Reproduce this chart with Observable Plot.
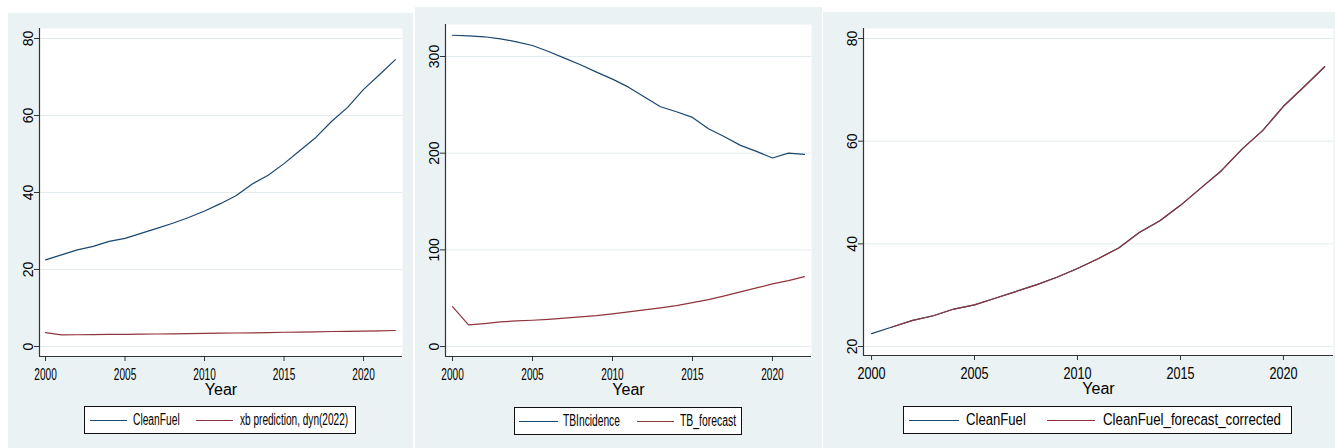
<!DOCTYPE html>
<html>
<head>
<meta charset="utf-8">
<script src="https://cdn.jsdelivr.net/npm/d3@7"></script>
<script src="https://cdn.jsdelivr.net/npm/@observablehq/plot@0.6"></script>
<style>
  html, body { margin: 0; padding: 0; background: #fff; }
  #root { position: relative; width: 1335px; height: 448px; overflow: hidden; font-family: "Liberation Sans", Arial, sans-serif; }
  .panel { position: absolute; background: #eaf2f3; }
  .panel svg { position: absolute; left: 0; top: 0; }
  .legend { position: absolute; box-sizing: border-box; border: 1px solid #111; background: #fff; }
  .legend .sample { position: absolute; top: 50%; height: 0; border-top: 1.4px solid; }
  .legend .lab { position: absolute; top: 50%; font-size: 16px; line-height: 1; white-space: nowrap; color: #000;
                 transform-origin: left center; }
</style>
</head>
<body>
<div id="root"></div>
<script>
// ---------------- data ----------------
const years = [2000, 2001, 2002, 2003, 2004, 2005, 2006, 2007, 2008, 2009, 2010,
               2011, 2012, 2013, 2014, 2015, 2016, 2017, 2018, 2019, 2020, 2021, 2022];
const forecastYears = [2001, 2002, 2003, 2004, 2005, 2006, 2007, 2008, 2009, 2010,
               2011, 2012, 2013, 2014, 2015, 2016, 2017, 2018, 2019, 2020, 2021, 2022];

const cleanFuel = [22.5, 23.8, 25.1, 26.0, 27.3, 28.1, 29.4, 30.7, 32.0, 33.5, 35.2,
                   37.1, 39.2, 42.2, 44.5, 47.5, 50.9, 54.3, 58.5, 62.1, 66.8, 70.6, 74.5];
const xbPrediction = [3.6, 3.0, 3.05, 3.1, 3.15, 3.15, 3.2, 3.25, 3.3, 3.35, 3.4,
                      3.45, 3.5, 3.55, 3.6, 3.7, 3.75, 3.8, 3.9, 3.95, 4.0, 4.05, 4.15];
const tbIncidence = [322, 321.4, 320.4, 318.3, 315.2, 311.4, 305.2, 298.3, 291.4, 283.8, 276.6,
                     268.3, 258.0, 248.0, 242.9, 237.0, 225.3, 217.0, 208.1, 201.9, 195.0, 200.1, 198.8];
const tbForecast = [41.3, 22.4, 23.8, 25.5, 26.5, 27.2, 28.2, 29.3, 30.7, 32.0, 33.8,
                    35.8, 37.9, 40.0, 42.4, 45.5, 48.6, 52.4, 56.5, 60.6, 64.8, 68.2, 72.3];
const cleanFuelForecastCorrected = [23.8, 25.1, 26.0, 27.3, 28.1, 29.4, 30.7, 32.0, 33.5, 35.2,
                    37.1, 39.2, 42.2, 44.5, 47.5, 50.9, 54.3, 58.5, 62.1, 66.8, 70.6, 74.5];

const xTicks = [2000, 2005, 2010, 2015, 2020];
const yTicks1 = [0, 20, 40, 60, 80];
const yTicks2 = [0, 100, 200, 300];
const yTicks3 = [20, 40, 60, 80];

const labels1 = ["CleanFuel", "xb prediction, dyn(2022)"];
const labels2 = ["TBIncidence", "TB_forecast"];
const labels3 = ["CleanFuel", "CleanFuel_forecast_corrected"];
const xTitle = "Year";

const NAVY = "#1a476f", MAROON = "#90353b";

// ---------------- layout ----------------
const panels = [
  {
    left: 8, top: 13, w: 405, h: 435, svgH: 390,
    m: {l: 31, r: 11, t: 15, b: 47},
    xDomain: [1999.62, 2022.45], yDomain: [-2.6, 82.6], yTicks: yTicks1,
    series: [
      {x: years, y: cleanFuel, color: NAVY},
      {x: years, y: xbPrediction, color: MAROON}
    ],
    labels: labels1, fx: 0.63,
    legend: {x: 76, y: 393, w: 272, h: 28,
      items: [{sx: 5, sw: 37, tx: 48, f: 0.64}, {sx: 111, sw: 37, tx: 155, f: 0.63}]}
  },
  {
    left: 415, top: 7, w: 407, h: 441, svgH: 396,
    m: {l: 30, r: 11, t: 17, b: 47},
    xDomain: [1999.56, 2022.44], yDomain: [-10.3, 333.1], yTicks: yTicks2,
    series: [
      {x: years, y: tbIncidence, color: NAVY},
      {x: years, y: tbForecast, color: MAROON}
    ],
    labels: labels2, fx: 0.63,
    legend: {x: 99, y: 400, w: 228, h: 28,
      items: [{sx: 4, sw: 39, tx: 48, f: 0.64}, {sx: 122, sw: 37, tx: 165, f: 0.65}]}
  },
  {
    left: 823, top: 12, w: 512, h: 436, svgH: 391,
    m: {l: 40, r: 2, t: 16, b: 48},
    xDomain: [1999.61, 2022.43], yDomain: [18.25, 81.95], yTicks: yTicks3,
    series: [
      {x: years, y: cleanFuel, color: NAVY},
      {x: forecastYears, y: cleanFuelForecastCorrected, color: MAROON}
    ],
    labels: labels3, fx: 0.79,
    legend: {x: 80, y: 394, w: 389, h: 28,
      items: [{sx: 5, sw: 50, tx: 62, f: 0.82}, {sx: 143, sw: 48, tx: 199, f: 0.83}]}
  }
];

const root = document.getElementById("root");

panels.forEach(p => {
  const div = document.createElement("div");
  div.className = "panel";
  Object.assign(div.style, {left: p.left + "px", top: p.top + "px", width: p.w + "px", height: p.h + "px"});
  root.appendChild(div);

  const lineMarks = p.series.map(s => {
    const data = s.x.map((yr, i) => ({year: yr, value: s.y[i]}));
    return Plot.lineY(data, {x: "year", y: "value", stroke: s.color, strokeWidth: 1.2});
  });

  const svg = Plot.plot({
    width: p.w, height: p.svgH,
    marginLeft: p.m.l, marginRight: p.m.r, marginTop: p.m.t, marginBottom: p.m.b,
    style: {background: "transparent", color: "#000", fontFamily: "'Liberation Sans', Arial, sans-serif", overflow: "visible"},
    x: {domain: p.xDomain},
    y: {domain: p.yDomain},
    marks: [
      Plot.frame({fill: "#fff", stroke: "none"}),
      Plot.gridY(p.yTicks, {stroke: "#e3edef", strokeOpacity: 1, strokeWidth: 1}),
      Plot.axisX({ticks: xTicks, tickSize: 5, tickPadding: 7, tickFormat: d => String(d), fontSize: 16, label: null, stroke: "#333"}),
      Plot.axisY({ticks: p.yTicks, tickSize: 5, tickPadding: 2, tickRotate: -90, fontSize: 14, label: null, stroke: "#333"}),
      Plot.ruleX([p.xDomain[0]], {stroke: "#333", strokeWidth: 1.2}),
      Plot.ruleY([p.yDomain[0]], {stroke: "#333", strokeWidth: 1.2}),
      ...lineMarks,
      Plot.text([xTitle], {frameAnchor: "bottom", text: d => d, dy: 27, lineAnchor: "top", fontSize: 16, ariaLabel: "xtitle"})
    ]
  });

  // horizontally condensed text, as in the reference image
  svg.querySelectorAll('g[aria-label="x-axis tick label"] text, g[aria-label="xtitle"] text').forEach(t => {
    const tr = t.getAttribute("transform") || "";
    t.setAttribute("transform", tr + ` scale(${p.fx},1)`);
  });
  div.appendChild(svg);

  // legend
  const L = p.legend;
  const lg = document.createElement("div");
  lg.className = "legend";
  Object.assign(lg.style, {left: L.x + "px", top: L.y + "px", width: L.w + "px", height: L.h + "px"});
  L.items.forEach((it, i) => {
    const s = document.createElement("div");
    s.className = "sample";
    Object.assign(s.style, {left: it.sx + "px", width: it.sw + "px", borderTopColor: p.series[i].color});
    lg.appendChild(s);
    const t = document.createElement("span");
    t.className = "lab";
    t.textContent = p.labels[i];
    Object.assign(t.style, {left: it.tx + "px", transform: `translateY(-50%) scaleX(${it.f})`});
    lg.appendChild(t);
  });
  div.appendChild(lg);
});
</script>
</body>
</html>
